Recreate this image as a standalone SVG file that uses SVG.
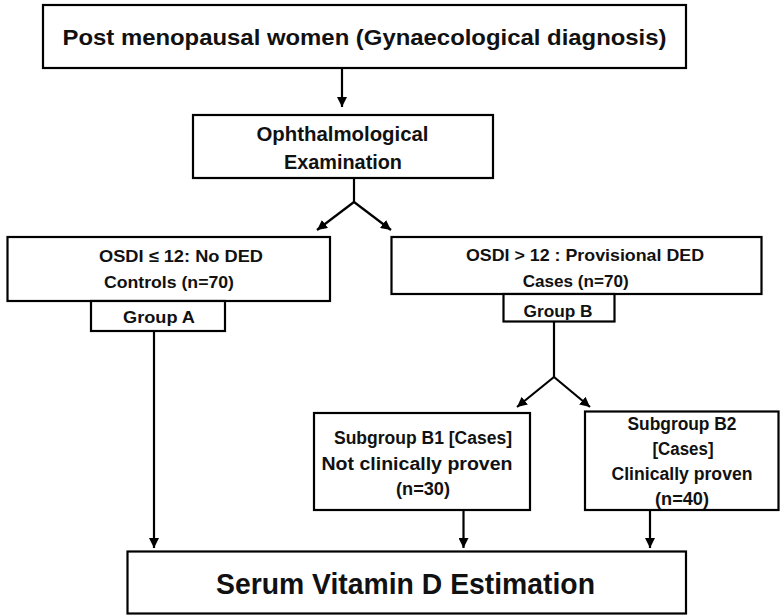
<svg xmlns="http://www.w3.org/2000/svg" width="782" height="615" viewBox="0 0 782 615">
<defs>
<marker id="ah" markerUnits="userSpaceOnUse" markerWidth="10" markerHeight="10" refX="10" refY="5" orient="auto">
<path d="M0,0 L10,5 L0,10 z" fill="#000"/>
</marker>
<style>
.box{fill:#fff;stroke:#000;stroke-width:2.2}
.t{font-family:"Liberation Sans",Arial,sans-serif;font-weight:bold;fill:#111;text-anchor:middle}
.s{font-size:16.5px}
.m{font-size:18px}
.c{stroke:#000;stroke-width:2.2;fill:none}
</style>
</defs>
<rect width="782" height="615" fill="#fff"/>
<g id="connectors">
<line class="c" x1="342" y1="68" x2="342" y2="107" marker-end="url(#ah)"/>
<line class="c" x1="354" y1="178" x2="354" y2="202"/>
<line class="c" x1="354" y1="202" x2="317" y2="230" marker-end="url(#ah)"/>
<line class="c" x1="354" y1="202" x2="391" y2="230" marker-end="url(#ah)"/>
<line class="c" x1="154" y1="331" x2="154" y2="548" marker-end="url(#ah)"/>
<line class="c" x1="554" y1="321" x2="554" y2="377"/>
<line class="c" x1="554" y1="377" x2="517" y2="407" marker-end="url(#ah)"/>
<line class="c" x1="554" y1="377" x2="590" y2="407" marker-end="url(#ah)"/>
<line class="c" x1="463.5" y1="510" x2="463.5" y2="548" marker-end="url(#ah)"/>
<line class="c" x1="650" y1="510" x2="650" y2="548" marker-end="url(#ah)"/>
</g>
<g id="top">
<rect class="box" x="43" y="5" width="643" height="63"/>
<text class="t" x="364.5" y="45" font-size="22" textLength="604" lengthAdjust="spacingAndGlyphs">Post menopausal women (Gynaecological diagnosis)</text>
</g>
<g id="ophth">
<rect class="box" x="193" y="115" width="300" height="63"/>
<text class="t" x="342.5" y="141" font-size="20" textLength="172" lengthAdjust="spacingAndGlyphs">Ophthalmological</text>
<text class="t" x="343" y="168.5" font-size="20" textLength="118" lengthAdjust="spacingAndGlyphs">Examination</text>
</g>
<g id="controls">
<rect class="box" x="7.5" y="237" width="322.5" height="64"/>
<text class="t s" x="181" y="262.3" textLength="164" lengthAdjust="spacingAndGlyphs">OSDI  ≤ 12: No DED</text>
<text class="t s" x="169" y="288.3" textLength="130" lengthAdjust="spacingAndGlyphs">Controls (n=70)</text>
</g>
<g id="groupA">
<rect class="box" x="91" y="301" width="134" height="30"/>
<text class="t s" x="159" y="323.3" textLength="72" lengthAdjust="spacingAndGlyphs">Group A</text>
</g>
<g id="cases">
<rect class="box" x="391.5" y="237" width="370" height="57"/>
<text class="t s" x="585" y="260.7" textLength="238" lengthAdjust="spacingAndGlyphs">OSDI  &gt; 12 : Provisional DED</text>
<text class="t s" x="575.7" y="286.7" textLength="106" lengthAdjust="spacingAndGlyphs">Cases (n=70)</text>
</g>
<g id="groupB">
<rect class="box" x="503.5" y="294" width="111" height="27.5"/>
<text class="t s" x="558" y="317.3" textLength="69" lengthAdjust="spacingAndGlyphs">Group B</text>
</g>
<g id="b1">
<rect class="box" x="314" y="413" width="216" height="97"/>
<text class="t m" x="423" y="444" textLength="178" lengthAdjust="spacingAndGlyphs">Subgroup B1 [Cases]</text>
<text class="t m" x="417" y="469.5" textLength="191" lengthAdjust="spacingAndGlyphs">Not clinically proven</text>
<text class="t m" x="423" y="495" textLength="54" lengthAdjust="spacingAndGlyphs">(n=30)</text>
</g>
<g id="b2">
<rect class="box" x="585" y="411.5" width="193.5" height="98.5"/>
<text class="t m" x="682" y="429.5" textLength="109" lengthAdjust="spacingAndGlyphs">Subgroup B2</text>
<text class="t m" x="683" y="454.5" textLength="61" lengthAdjust="spacingAndGlyphs">[Cases]</text>
<text class="t m" x="682" y="479.5" textLength="141" lengthAdjust="spacingAndGlyphs">Clinically proven</text>
<text class="t m" x="682" y="505" textLength="54" lengthAdjust="spacingAndGlyphs">(n=40)</text>
</g>
<g id="result">
<rect class="box" x="127.5" y="551.5" width="558.5" height="62"/>
<text class="t" x="405.5" y="593.5" font-size="29" textLength="379" lengthAdjust="spacingAndGlyphs">Serum Vitamin D Estimation</text>
</g>
</svg>
